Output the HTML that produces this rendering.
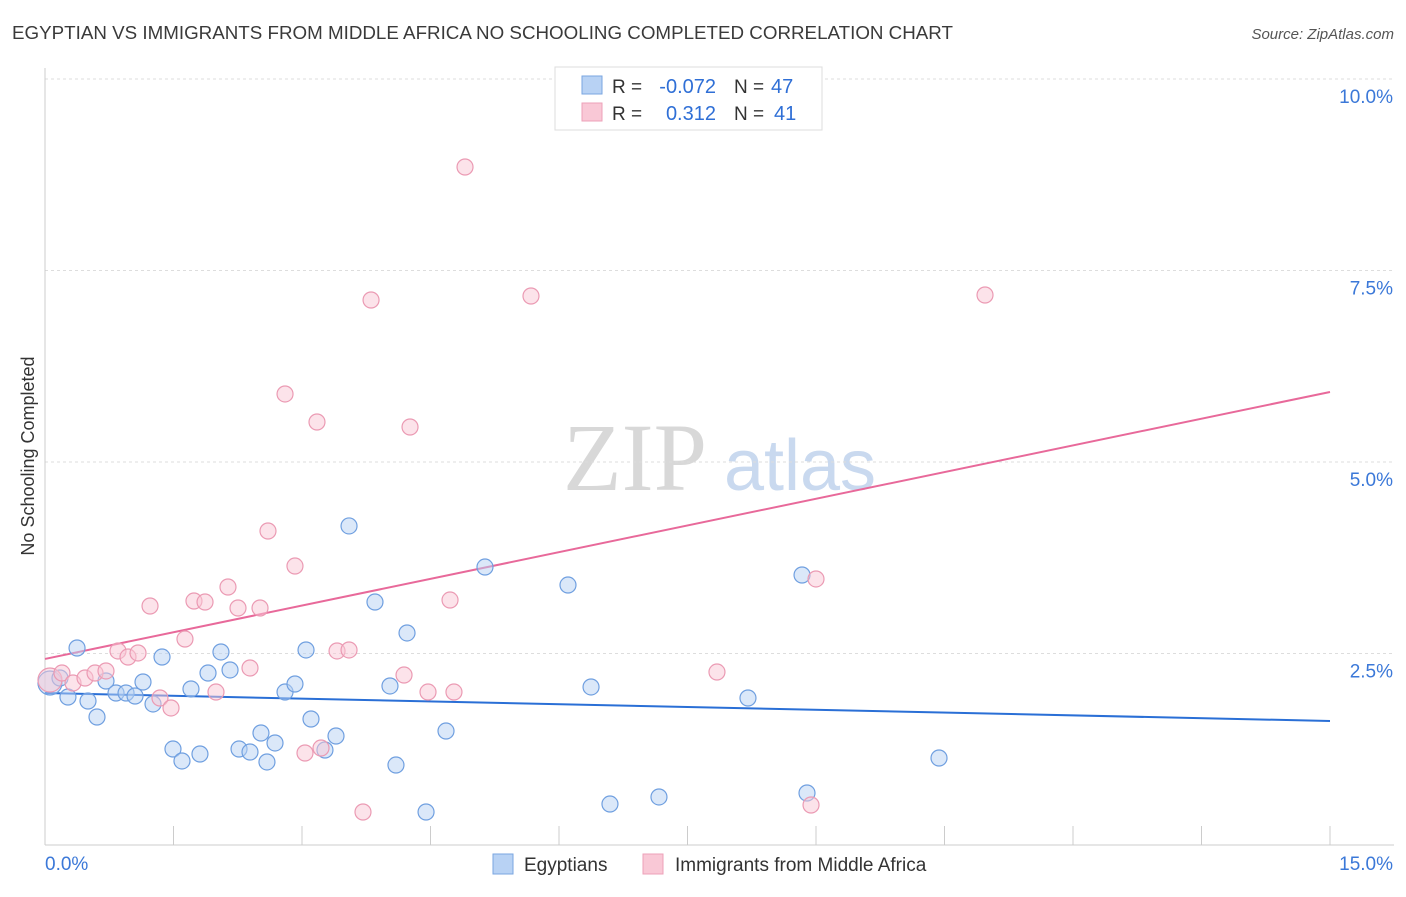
<!DOCTYPE html>
<html><head><meta charset="utf-8">
<style>
body{margin:0;background:#fff;font-family:"Liberation Sans",sans-serif;}
svg text{font-family:"Liberation Sans",sans-serif;}
</style></head>
<body>
<svg id="chart" width="1406" height="892" viewBox="0 0 1406 892" xmlns="http://www.w3.org/2000/svg">
<text x="12" y="39" font-size="18" fill="#3a3a3a" textLength="941" lengthAdjust="spacingAndGlyphs">EGYPTIAN VS IMMIGRANTS FROM MIDDLE AFRICA NO SCHOOLING COMPLETED CORRELATION CHART</text>
<text x="1394" y="39" font-size="15" fill="#555" text-anchor="end" font-style="italic">Source: ZipAtlas.com</text>
<g>
<text x="635" y="490" font-size="96" fill="#d8d8d8" text-anchor="middle" style="font-family:'Liberation Serif',serif">ZIP</text>
<text x="800" y="490" font-size="72" fill="#c9d9ef" text-anchor="middle">atlas</text>
</g>
<g id="grid"></g>
<g id="axes"></g>
<text transform="translate(34,456) rotate(-90)" font-size="18" fill="#333" text-anchor="middle">No Schooling Completed</text>
<g id="trends"></g>
<g id="points"></g>
<g>
<rect x="555" y="67" width="267" height="63" fill="#fff" stroke="#ddd"/>
<rect x="582" y="76" width="20" height="18" fill="#b8d2f4" stroke="#7aa6e0"/>
<rect x="582" y="103" width="20" height="18" fill="#f9c8d6" stroke="#eda1b8"/>
<text x="612" y="93" font-size="19" fill="#333">R =</text>
<text x="716" y="93" font-size="20" fill="#2f6fd6" text-anchor="end">-0.072</text>
<text x="734" y="93" font-size="19" fill="#333">N =</text>
<text x="771" y="93" font-size="20" fill="#2f6fd6">47</text>
<text x="612" y="120" font-size="19" fill="#333">R =</text>
<text x="716" y="120" font-size="20" fill="#2f6fd6" text-anchor="end">0.312</text>
<text x="734" y="120" font-size="19" fill="#333">N =</text>
<text x="774" y="120" font-size="20" fill="#2f6fd6">41</text>
</g>
<g>
<rect x="493" y="854" width="20" height="20" fill="#b8d2f4" stroke="#7aa6e0"/>
<text x="524" y="871" font-size="19" fill="#333">Egyptians</text>
<rect x="643" y="854" width="20" height="20" fill="#f9c8d6" stroke="#eda1b8"/>
<text x="675" y="871" font-size="19" fill="#333">Immigrants from Middle Africa</text>
</g>
</svg>
<script>
const blueX=[0.058,0.175,0.268,0.374,0.502,0.607,0.712,0.829,0.946,1.051,1.144,1.261,1.366,1.494,1.599,1.704,1.809,1.903,2.054,2.16,2.265,2.393,2.521,2.591,2.685,2.802,2.918,3.047,3.105,3.268,3.397,3.549,3.852,4.027,4.097,4.226,4.448,4.681,5.136,6.105,6.374,6.595,7.167,8.206,8.837,8.895,10.436];
const blueY=[2.115,2.18,1.932,2.572,1.88,1.671,2.141,1.984,1.984,1.945,2.128,1.841,2.454,1.253,1.097,2.037,1.188,2.245,2.52,2.285,1.253,1.214,1.462,1.084,1.332,1.997,2.102,2.546,1.645,1.24,1.423,4.165,3.172,2.076,1.044,2.768,0.431,1.488,3.629,3.394,2.063,0.535,0.627,1.919,3.525,0.679,1.136];
const pinkX=[0.058,0.198,0.327,0.467,0.584,0.712,0.852,0.969,1.086,1.226,1.342,1.471,1.634,1.739,1.868,1.996,2.136,2.253,2.393,2.51,2.603,2.802,2.918,3.035,3.175,3.222,3.409,3.549,3.712,3.806,4.191,4.261,4.471,4.728,4.774,4.903,5.673,7.844,8.942,9.0,10.973];
const pinkY=[2.154,2.245,2.115,2.18,2.245,2.272,2.533,2.454,2.507,3.12,1.919,1.789,2.689,3.185,3.172,1.997,3.368,3.094,2.311,3.094,4.099,5.888,3.642,1.201,5.522,1.266,2.533,2.546,0.431,7.115,2.219,5.457,1.997,3.198,1.997,8.851,7.167,2.258,0.522,3.473,7.18];
const blueTrend=[1.984,1.619];
const pinkTrend=[2.429,5.914];
const yTicks=[2.5,5.0,7.5,10.0];
const yTickLabels=["2.5%","5.0%","7.5%","10.0%"];
const xTicks=[0,1.5,3,4.5,6,7.5,9,10.5,12,13.5,15];
const NS="http://www.w3.org/2000/svg";
const sx=v=>45+v/15*1285;
const sy=v=>845-v/10*766;
function mk(tag,attrs,parent){const e=document.createElementNS(NS,tag);for(const k in attrs)e.setAttribute(k,attrs[k]);parent.appendChild(e);return e;}
const grid=document.getElementById('grid'),axes=document.getElementById('axes'),trends=document.getElementById('trends'),pts=document.getElementById('points');
yTicks.forEach((t,i)=>{
 const l=mk('line',{x1:45,x2:1394,y1:sy(t),y2:sy(t),stroke:'#ddd','stroke-dasharray':'3,3'},grid);
 
 
 const tx=mk('text',{x:1393,y:sy(t)+24,'font-size':19,fill:'#3b78d8','text-anchor':'end'},grid);
 tx.textContent=yTickLabels[i];
 
 
});
const ax=mk('line',{x1:45,x2:1394,y1:845,y2:845,stroke:'#ccc'},axes);


const ay=mk('line',{x1:45,x2:45,y1:68,y2:845,stroke:'#ccc'},axes);


xTicks.forEach(t=>{
 const l=mk('line',{x1:sx(t),x2:sx(t),y1:826,y2:845,stroke:'#ccc'},axes);
 
 
});
const xl0=mk('text',{x:45,y:870,'font-size':19,fill:'#3b78d8'},axes);xl0.textContent='0.0%';


const xl1=mk('text',{x:1393,y:870,'font-size':19,fill:'#3b78d8','text-anchor':'end'},axes);xl1.textContent='15.0%';


function drawPts(X,Y,fill,stroke,name){
 X.forEach((x,i)=>{
  const c=mk('circle',{cx:sx(x),cy:sy(Y[i]),r:i===0?12:8,fill:fill,'fill-opacity':0.5,stroke:stroke,'stroke-width':1.2},pts);
  
  
 });
}
drawPts(blueX,blueY,'#b8d2f4','#6f9fe0','egyptians-point');
drawPts(pinkX,pinkY,'#f9c8d6','#eb9ab3','immigrants-point');
const bt=mk('line',{x1:sx(0),y1:sy(blueTrend[0]),x2:sx(15),y2:sy(blueTrend[1]),stroke:'#2a6fd6','stroke-width':2},trends);


const pt=mk('line',{x1:sx(0),y1:sy(pinkTrend[0]),x2:sx(15),y2:sy(pinkTrend[1]),stroke:'#e8699a','stroke-width':2},trends);


</script>
</body></html>
